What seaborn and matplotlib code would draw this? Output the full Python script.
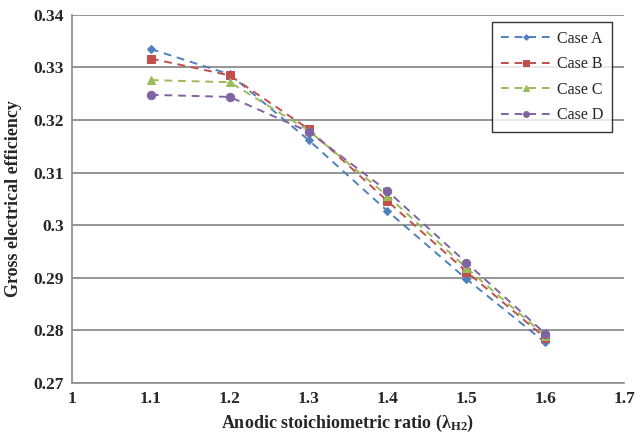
import matplotlib
matplotlib.use("Agg")
import matplotlib.pyplot as plt
import seaborn as sns
import pandas as pd

x_vals = [1.1, 1.2, 1.3, 1.4, 1.5, 1.6]
case_a = [0.3335, 0.3287, 0.3162, 0.3027, 0.2898, 0.2777]
case_b = [0.3317, 0.3285, 0.3183, 0.3046, 0.2912, 0.2786]
case_c = [0.3276, 0.3272, 0.3180, 0.3056, 0.2919, 0.2790]
case_d = [0.3248, 0.3244, 0.3178, 0.3065, 0.2929, 0.2794]
series_names = ["Case A", "Case B", "Case C", "Case D"]
x_ticks = [1, 1.1, 1.2, 1.3, 1.4, 1.5, 1.6, 1.7]
y_ticks = [0.27, 0.28, 0.29, 0.30, 0.31, 0.32, 0.33, 0.34]
y_tick_labels = ["0.27", "0.28", "0.29", "0.3", "0.31", "0.32", "0.33", "0.34"]

rows = []
for name, vals in zip(series_names, [case_a, case_b, case_c, case_d]):
    for xv, yv in zip(x_vals, vals):
        rows.append({"x": xv, "y": yv, "case": name})
df = pd.DataFrame(rows)

sns.set_style("white")
plt.rcParams['font.family'] = ['Liberation Serif', 'DejaVu Serif']
plt.rcParams['mathtext.fontset'] = 'custom'
plt.rcParams['mathtext.rm'] = 'Liberation Serif'
plt.rcParams['mathtext.it'] = 'Liberation Serif:italic'
plt.rcParams['mathtext.bf'] = 'Liberation Serif:bold'

fig = plt.figure(figsize=(6.4, 4.38), dpi=100)
ax = fig.add_axes([0.1125, 0.1256, 0.8625, 0.8404])

colors = ["#4F81BD", "#C0504D", "#9BBB59", "#8064A2"]
markers = ["D", "s", "^", "o"]
sizes = [4, 6, 6, 6]
for name, c, m, s in zip(series_names, colors, markers, sizes):
    sub = df[df["case"] == name]
    sns.lineplot(data=sub, x="x", y="y", ax=ax, color=c, marker=m,
                 markersize=s, linestyle=(0, (4, 3)), linewidth=1.4,
                 markeredgecolor=c, label=name)

ax.set_xlim(1, 1.7)
ax.set_ylim(0.27, 0.34)
ax.set_xticks(x_ticks)
ax.set_xticklabels([f"{t:g}" for t in x_ticks], fontweight="bold", fontsize=12.5)
ax.set_yticks(y_ticks)
ax.set_yticklabels(y_tick_labels, fontweight="bold", fontsize=12.5)
ax.yaxis.grid(True, color="#8c8c8c", linewidth=1.3)
ax.xaxis.grid(False)
for sp in ["top", "right"]:
    ax.spines[sp].set_visible(False)
for sp in ["left", "bottom"]:
    ax.spines[sp].set_color("#8c8c8c")
    ax.spines[sp].set_linewidth(1.2)
ax.tick_params(axis="both", which="both", direction="out", length=4,
               color="#8c8c8c", pad=2)
ax.set_xlabel(r"Anodic stoichiometric ratio ($\mathbf{\lambda_{H2}}$)",
              fontsize=13, fontweight="bold", labelpad=4)
ax.set_ylabel("Gross electrical efficiency", fontsize=13, fontweight="bold",
              labelpad=8)

leg = ax.legend(loc="upper right", bbox_to_anchor=(0.978, 0.981),
                borderaxespad=0.0,
                frameon=True, fancybox=False, edgecolor="black",
                fontsize=11.5, handlelength=3.2, labelspacing=0.6,
                borderpad=0.55, markerscale=0.7, handletextpad=0.3)
leg.get_frame().set_linewidth(1.0)
leg.get_frame().set_facecolor("white")

fig.savefig("out.png", dpi=100)
